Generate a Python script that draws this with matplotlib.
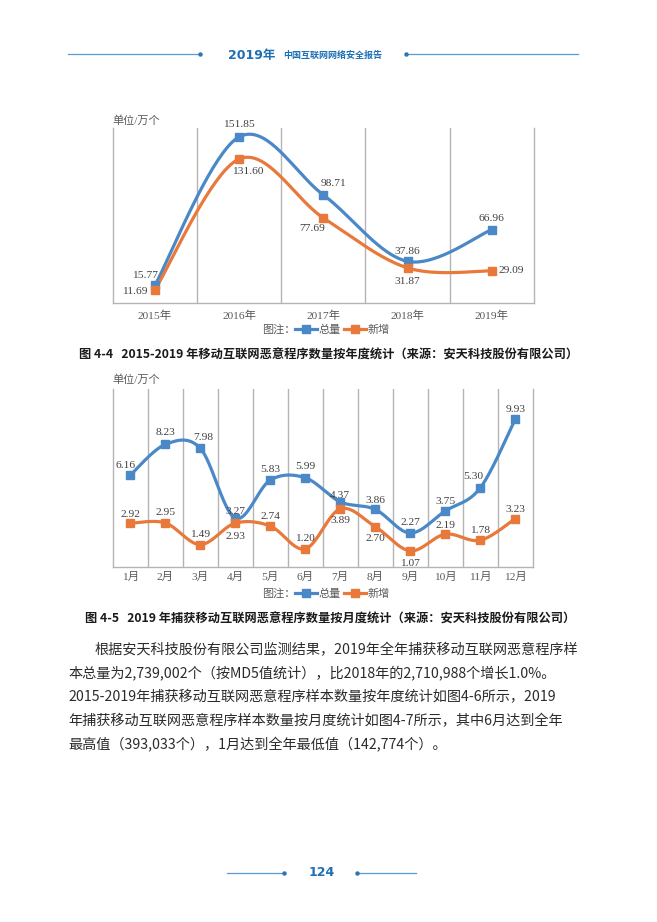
import numpy as np
import matplotlib
matplotlib.use("Agg")
import matplotlib.pyplot as plt
from matplotlib.lines import Line2D

plt.rcParams['font.family'] = ['Noto Sans CJK SC', 'DejaVu Sans']

# ---- data ----
years = ['2015年', '2016年', '2017年', '2018年', '2019年']
year_total = [15.77, 151.85, 98.71, 37.86, 66.96]
year_new = [11.69, 131.60, 77.69, 31.87, 29.09]

months = ['1月', '2月', '3月', '4月', '5月', '6月',
          '7月', '8月', '9月', '10月', '11月', '12月']
month_total = [6.16, 8.23, 7.98, 3.27, 5.83, 5.99, 4.37, 3.86, 2.27, 3.75, 5.30, 9.93]
month_new = [2.92, 2.95, 1.49, 2.93, 2.74, 1.20, 3.89, 2.70, 1.07, 2.19, 1.78, 3.23]

series_names = ['总量', '新增']
unit_label = '单位/万个'

caption1 = '图 4-4   2015-2019 年移动互联网恶意程序数量按年度统计（来源：安天科技股份有限公司）'
caption2 = '图 4-5   2019 年捕获移动互联网恶意程序数量按月度统计（来源：安天科技股份有限公司）'
paragraph = [
    '根据安天科技股份有限公司监测结果，2019年全年捕获移动互联网恶意程序样',
    '本总量为2,739,002个（按MD5值统计），比2018年的2,710,988个增长1.0%。',
    '2015-2019年捕获移动互联网恶意程序样本数量按年度统计如图4-6所示，2019',
    '年捕获移动互联网恶意程序样本数量按月度统计如图4-7所示，其中6月达到全年',
    '最高值（393,033个），1月达到全年最低值（142,774个）。',
]

# label offsets (pixels) for the data labels
off1_total = [(-10, 10), (0, 12), (10, 11), (0, 10), (0, 11)]
off1_new = [(-20, -2), (9, -12), (-11, -11), (0, -14), (20, 0)]
off2_total = [(-5, 10), (0, 12), (3, 11), (0, 7), (0, 11), (0, 11),
              (0, 6), (0, 9), (0, 10), (0, 10), (-7, 11), (0, 10)]
off2_new = [(0, 9), (0, 10), (0, 10), (0, -13), (0, 10), (0, 10),
            (0, -12), (0, -12), (0, -12.5), (0, 9), (0, 10), (0, 9.5)]

W, H = 657, 922
BLUE = '#4a88c7'
ORANGE = '#e8793a'
GRID = '#b4b4b4'
GRAYTXT = '#595959'
HEADBLUE = '#1d6fb6'
SERIF = ['Liberation Serif', 'Noto Sans CJK SC']
PX2PT = 72.0 / 100


def fx(x):
    return x / W


def fy(y):
    return 1 - y / H


def smooth(ys, n=40):
    # Excel-like smoothed line: cubic Bezier through the points
    pts = np.column_stack([np.arange(len(ys)), ys]).astype(float)
    P = np.vstack([pts[0], pts, pts[-1]])
    t = np.linspace(0, 1, n)[:, None]
    out = []
    for i in range(1, len(P) - 2):
        p0, p1, p2, p3 = P[i - 1], P[i], P[i + 1], P[i + 2]
        c1 = p1 + (p2 - p0) / 6
        c2 = p2 - (p3 - p1) / 6
        seg = (1 - t)**3 * p1 + 3 * (1 - t)**2 * t * c1 + 3 * (1 - t) * t**2 * c2 + t**3 * p2
        out.append(seg if i == 1 else seg[1:])
    seg = np.vstack(out)
    return seg[:, 0], seg[:, 1]


def draw_chart(fig, box, cats, total, new, ymax, offs_t, offs_n, pad, unit_y, legend_y):
    left, top, right, bottom = box
    ax = fig.add_axes([fx(left), fy(bottom), (right - left) / W, (bottom - top) / H])
    n = len(cats)
    for vals, col, offs in ((total, BLUE, offs_t), (new, ORANGE, offs_n)):
        sx, sy = smooth(vals)
        ax.plot(sx, sy, color=col, lw=2.3, solid_capstyle='round', zorder=3)
        ax.plot(range(n), vals, 's', color=col, ms=5.5, zorder=4)
        for i, v in enumerate(vals):
            dx, dy = offs[i]
            ha = 'center'
            if abs(dx) >= 15:
                ha = 'right' if dx < 0 else 'left'
                dx = np.sign(dx) * 7
            ax.annotate(f'{v:.2f}', (i, v), xytext=(dx * PX2PT, dy * PX2PT),
                        textcoords='offset points', ha=ha, va='center',
                        fontsize=8.2, family=SERIF, color='#404040', zorder=5)
    ax.set_xlim(-0.5, n - 0.5)
    ax.set_ylim(0, ymax)
    ax.set_xticks(range(n))
    ax.set_xticklabels(cats, family=SERIF, fontsize=8.2, color=GRAYTXT)
    ax.set_xticks(np.arange(0.5, n - 1), minor=True)
    ax.tick_params(axis='x', which='both', length=0, pad=pad)
    ax.set_yticks([])
    ax.grid(which='minor', axis='x', color=GRID, lw=1.0)
    for s in ('left', 'bottom', 'right'):
        ax.spines[s].set_color(GRID)
        ax.spines[s].set_linewidth(1.0)
    ax.spines['top'].set_visible(False)
    ax.set_facecolor('none')

    fig.text(fx(left), fy(unit_y), unit_label, fontsize=8, color=GRAYTXT,
             family=SERIF, ha='left', va='center')
    fig.text(fx(262), fy(legend_y), '图注：', fontsize=8, color=GRAYTXT,
             ha='left', va='center')
    handles = [Line2D([], [], color=c, lw=2.3, marker='s', ms=5.5) for c in (BLUE, ORANGE)]
    fig.legend(handles, series_names, loc='center left',
               bbox_to_anchor=(fx(295), fy(legend_y)), ncol=2, frameon=False,
               fontsize=8, labelcolor=GRAYTXT, handlelength=2.0,
               handletextpad=0.15, columnspacing=0.25, borderpad=0,
               borderaxespad=0)
    return ax


fig = plt.figure(figsize=(W / 100, H / 100), dpi=100)

# header
for x0, x1, dot in ((68, 200, 200), (406, 578, 406)):
    fig.add_artist(Line2D([fx(x0), fx(x1)], [fy(54.5), fy(54.5)], color='#5b9bd5', lw=0.9))
    fig.add_artist(Line2D([fx(dot)], [fy(54.5)], marker='o', ms=2.2, color='#2e75b6', lw=0))
fig.text(fx(228), fy(55), '2019年', fontsize=9, fontweight='bold', color=HEADBLUE,
         family=['DejaVu Sans', 'Noto Sans CJK SC'], ha='left', va='center')
fig.text(fx(283), fy(55), '中国互联网网络安全报告', fontsize=6.5, fontweight='bold',
         color=HEADBLUE, ha='left', va='center')

draw_chart(fig, (112.7, 128, 534, 302.7), years, year_total, year_new, 160,
           off1_total, off1_new, 6, 120.5, 330)
fig.text(fx(79), fy(355), caption1, fontsize=8.8, fontweight='bold', color='#1a1a1a',
         ha='left', va='center')

draw_chart(fig, (112.7, 388.5, 532.7, 566.7), months, month_total, month_new, 12,
           off2_total, off2_new, 4, 380, 594)
fig.text(fx(85), fy(619), caption2, fontsize=8.8, fontweight='bold', color='#1a1a1a',
         ha='left', va='center')

# body text
for i, line in enumerate(paragraph):
    x = 95 if i == 0 else 68
    fig.text(fx(x), fy(650 + i * 23.8), line, fontsize=10.2, color='#2b2b2b',
             ha='left', va='center')

# footer
for x0, x1, dot in ((227, 284, 284), (357, 416, 357)):
    fig.add_artist(Line2D([fx(x0), fx(x1)], [fy(873), fy(873)], color='#5b9bd5', lw=0.9))
    fig.add_artist(Line2D([fx(dot)], [fy(873)], marker='o', ms=2.2, color='#2e75b6', lw=0))
fig.text(fx(322), fy(873), '124', fontsize=9, fontweight='bold', color=HEADBLUE,
         family='DejaVu Sans', ha='center', va='center')

fig.savefig('out.png', dpi=100, facecolor='white')
